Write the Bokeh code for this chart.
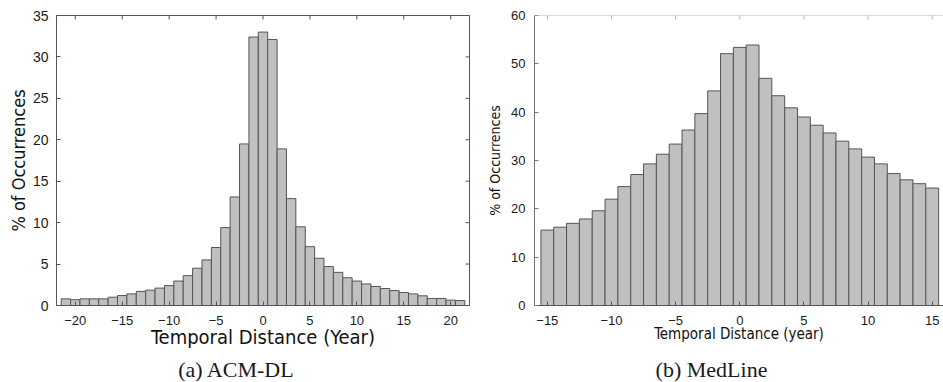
from bokeh.plotting import figure
from bokeh.layouts import row, column
from bokeh.models import LinearAxis, FixedTicker, Range1d, ColumnDataSource, Span, Label
from bokeh.embed import file_html
from bokeh.resources import INLINE

# ---------------- data ----------------
acm_distance = list(range(-21, 22))
acm_percent = [0.8, 0.7, 0.8, 0.8, 0.8, 1.0, 1.2, 1.4, 1.7, 1.85, 2.1, 2.4, 2.95,
               3.6, 4.5, 5.5, 7.0, 9.4, 13.1, 19.5, 32.4, 33.0, 32.1, 18.9, 12.9,
               9.5, 7.1, 5.7, 4.7, 4.0, 3.35, 2.95, 2.6, 2.3, 2.05, 1.8, 1.57, 1.4,
               1.17, 0.85, 0.85, 0.65, 0.6]
acm_xticks = [-20, -15, -10, -5, 0, 5, 10, 15, 20]
acm_xtick_labels = ["\u221220", "\u221215", "\u221210", "\u22125", "0", "5", "10", "15", "20"]
acm_yticks = [0, 5, 10, 15, 20, 25, 30, 35]

med_distance = list(range(-15, 16))
med_percent = [15.6, 16.2, 17.0, 17.9, 19.6, 22.0, 24.6, 27.1, 29.3, 31.3, 33.4,
               36.3, 39.7, 44.4, 52.1, 53.4, 53.9, 47.0, 43.4, 40.9, 39.0, 37.3,
               35.7, 34.0, 32.4, 30.7, 29.3, 27.3, 26.0, 25.2, 24.3]
med_xticks = [-15, -10, -5, 0, 5, 10, 15]
med_xtick_labels = ["\u221215", "\u221210", "\u22125", "0", "5", "10", "15"]
med_yticks = [0, 10, 20, 30, 40, 50, 60]

acm_xlabel = "Temporal Distance (Year)"
med_xlabel = "Temporal Distance (year)"
ylabel = "% of Occurrences"
acm_caption = "(a) ACM-DL"
med_caption = "(b) MedLine"

TICK_FONT = "Liberation Sans"
LABEL_FONT = "DejaVu Sans Condensed, DejaVu Sans"
CAP_FONT = "Liberation Serif"
BAR_FILL = "#c0c0c0"
BAR_LINE = "#555555"
DARK = "#555555"
LIGHT = "#b4b4b4"
TICK_LEN = 4  # px


def make_axis(ticks, labels=None, color=DARK, font_size="13px", standoff=6):
    ax = LinearAxis(ticker=FixedTicker(ticks=ticks))
    ax.minor_tick_line_color = None
    ax.major_tick_in = TICK_LEN
    ax.major_tick_out = 0
    ax.major_tick_line_color = color
    ax.axis_line_color = color
    if labels is not None:
        ax.major_label_overrides = {t: l for t, l in zip(ticks, labels)}
    ax.major_label_text_font = TICK_FONT
    ax.major_label_text_font_size = font_size
    ax.major_label_text_color = "#1a1a1a"
    ax.major_label_standoff = standoff
    return ax


def style_label(ax, text, size, standoff):
    ax.axis_label = text
    ax.axis_label_text_font = LABEL_FONT
    ax.axis_label_text_font_style = "normal"
    ax.axis_label_text_font_size = size
    ax.axis_label_text_color = "#111111"
    ax.axis_label_standoff = standoff


def mirror_ticks(p, xticks, yticks, xr, yr, frame_w, frame_h, color, right=True):
    dy = TICK_LEN * (yr[1] - yr[0]) / frame_h
    dx = TICK_LEN * (xr[1] - xr[0]) / frame_w
    p.segment(x0=xticks, x1=xticks, y0=[yr[1]] * len(xticks), y1=[yr[1] - dy] * len(xticks),
              line_color=color, line_width=1)
    if right:
        p.segment(x0=[xr[1]] * len(yticks), x1=[xr[1] - dx] * len(yticks), y0=yticks, y1=yticks,
                  line_color=color, line_width=1)


def caption_fig(width, height, text, cx):
    c = figure(width=width, height=height, x_range=Range1d(0, width), y_range=Range1d(0, height),
               output_backend="svg", toolbar_location=None, x_axis_type=None, y_axis_type=None,
               title=None, min_border=0,
               min_border_left=0, min_border_right=0, min_border_top=0, min_border_bottom=0)
    c.grid.visible = False
    c.outline_line_color = None
    c.add_layout(Label(x=cx, y=13, text=text, text_font=CAP_FONT, text_font_size="22px",
                       text_align="center", text_baseline="alphabetic", text_color="#1a1a1a"))
    return c


H = 356          # chart height; caption strip below
CAP_H = 382 - H
T, B = 15, H - 305

# ---------------- left chart: ACM-DL ----------------
W1 = 484
L1, R1 = 56, 15
xr1, yr1 = (-22, 22), (0, 35)
p1 = figure(width=W1, height=H, x_range=Range1d(*xr1), y_range=Range1d(*yr1),
            output_backend="svg", toolbar_location=None,
            x_axis_type=None, y_axis_type=None,
            min_border_left=L1, min_border_right=R1, min_border_top=T, min_border_bottom=B)
p1.grid.visible = False
p1.outline_line_color = DARK
src1 = ColumnDataSource(dict(x=acm_distance, top=acm_percent))
p1.vbar(x="x", top="top", bottom=0, width=1.0, source=src1,
        fill_color=BAR_FILL, line_color=BAR_LINE, line_width=1)
mirror_ticks(p1, acm_xticks, acm_yticks, xr1, yr1, W1 - L1 - R1, H - T - B, DARK)

b1 = make_axis(acm_xticks, acm_xtick_labels, standoff=10)
style_label(b1, acm_xlabel, "20px", -3)
p1.add_layout(b1, "below")
l1 = make_axis(acm_yticks, standoff=8, font_size="14px")
style_label(l1, ylabel, "18px", 1)
p1.add_layout(l1, "left")

# ---------------- right chart: MedLine ----------------
W2 = 943 - W1
L2, R2 = 49, 0
xr2, yr2 = (-16, 15.88), (0, 60)
p2 = figure(width=W2, height=H, x_range=Range1d(*xr2), y_range=Range1d(*yr2),
            output_backend="svg", toolbar_location=None,
            x_axis_type=None, y_axis_type=None,
            min_border_left=L2, min_border_right=R2, min_border_top=T, min_border_bottom=B)
p2.grid.visible = False
p2.outline_line_color = None
src2 = ColumnDataSource(dict(x=med_distance, top=med_percent))
p2.vbar(x="x", top="top", bottom=0, width=1.0, source=src2,
        fill_color=BAR_FILL, line_color=BAR_LINE, line_width=1)
p2.add_layout(Span(location=yr2[1], dimension="width", line_color=LIGHT, line_width=1))
mirror_ticks(p2, med_xticks, med_yticks, xr2, yr2, W2 - L2 - R2, H - T - B, LIGHT, right=False)

b2 = make_axis(med_xticks, med_xtick_labels, standoff=10)
style_label(b2, med_xlabel, "15px", -3)
p2.add_layout(b2, "below")
l2 = make_axis(med_yticks, standoff=9, font_size="13px", color="#777777")
style_label(l2, ylabel, "14px", 5)
p2.add_layout(l2, "left")

# ---------------- captions ----------------
c1 = caption_fig(W1, CAP_H, acm_caption, 236)
c2 = caption_fig(W2, CAP_H, med_caption, 711 - W1)

layout = column(row(p1, p2), row(c1, c2))
open("out.html", "w").write(file_html(layout, INLINE))
